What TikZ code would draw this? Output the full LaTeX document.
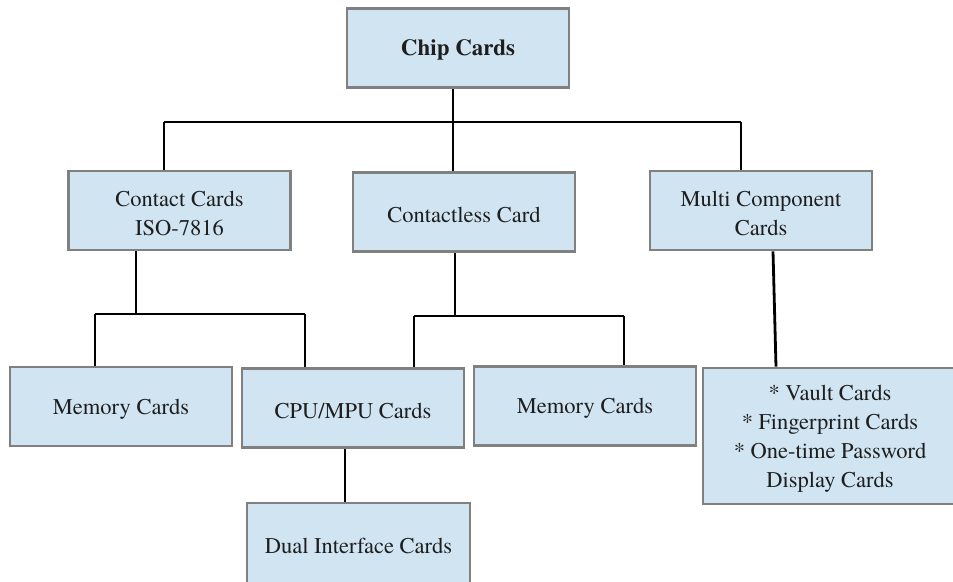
\documentclass[tikz,border=0pt]{standalone}
\usepackage{fontspec}
\setmainfont{texgyretermes}[Extension=.otf, UprightFont=*-regular, BoldFont=*-bold]
\usetikzlibrary{backgrounds}
\definecolor{boxfill}{RGB}{208,228,242}
\definecolor{boxline}{RGB}{128,128,128}
\definecolor{ink}{RGB}{30,30,30}
\begin{document}
\begin{tikzpicture}[x=1pt,y=-1pt,
  cardbox/.style={draw=boxline, fill=boxfill, line width=2.6pt,
    minimum width=222pt, minimum height=79pt, inner sep=0pt},
  cardtext/.style={align=center, text=ink, inner sep=0pt, yshift=-2.5pt,
    font=\fontsize{22.5}{29}\selectfont},
  wire/.style={draw=black, line width=2.8pt}]
\useasboundingbox (0,0) rectangle (953,581);

% boxes
\node[cardbox] (chip) at (458,47.8) {};
\node[cardbox] (contact) at (179.5,210.5) {};
\node[cardbox] (contactless) at (464,212) {};
\node[cardbox] (multi) at (761,210.5) {};
\node[cardbox] (mem1) at (121,406.5) {};
\node[cardbox] (cpu) at (353,408) {};
\node[cardbox] (mem2) at (585,406) {};
\node[cardbox, minimum width=254pt, minimum height=136pt] (vault) at (830,436) {};
\node[cardbox, minimum width=223pt, minimum height=80pt] (dual) at (358.5,543) {};

% box texts
\node[cardtext, font=\fontsize{23}{29}\selectfont\bfseries] (chipt) at (chip.center) {Chip Cards};
\node[cardtext] (contactt) at (contact.center) {Contact Cards\\ISO-7816};
\node[cardtext] (contactlesst) at (contactless.center) {Contactless Card};
\node[cardtext] (multit) at (multi.center) {Multi Component\\Cards};
\node[cardtext] (mem1t) at (mem1.center) {Memory Cards};
\node[cardtext] (cput) at (cpu.center) {CPU/MPU Cards};
\node[cardtext] (mem2t) at (mem2.center) {Memory Cards};
\node[cardtext] (vaultt) at (vault.center)
  {* Vault Cards\\* Fingerprint Cards\\* One-time Password\\Display Cards};
\node[cardtext] (dualt) at (dual.center) {Dual Interface Cards};

% junction points of the tree
\coordinate (tm) at (453,122);
\coordinate (tl) at (164,122);
\coordinate (tr) at (741,122);
\coordinate (c1) at (136,314);
\coordinate (cl) at (95,314);
\coordinate (cr) at (305,314);
\coordinate (d1) at (455,316);
\coordinate (dl) at (414,316);
\coordinate (dr) at (624,316);
\coordinate (m1) at (773,0);
\coordinate (m2) at (776,0);
\coordinate (e1) at (345,0);

\begin{pgfonlayer}{background}
  % top level
  \draw[wire] (chip.south -| tm) -- (tm);
  \draw[wire] (tl) -- (tr);
  \draw[wire] (tl) -- (tl |- contact.north);
  \draw[wire] (tm) -- (tm |- contactless.north);
  \draw[wire] (tr) -- (tr |- multi.north);
  % contact cards
  \draw[wire] (contact.south -| c1) -- (c1);
  \draw[wire] (cl) -- (cr);
  \draw[wire] (cl) -- (cl |- mem1.north);
  \draw[wire] (cr) -- (cr |- cpu.north);
  % contactless card
  \draw[wire] (contactless.south -| d1) -- (d1);
  \draw[wire] (dl) -- (dr);
  \draw[wire] (dl) -- (dl |- cpu.north);
  \draw[wire] (dr) -- (dr |- mem2.north);
  % multi component
  \draw[wire] (multi.south -| m1) -- (vault.north -| m2);
  % cpu to dual interface
  \draw[wire] (cpu.south -| e1) -- (dual.north -| e1);
\end{pgfonlayer}
\end{tikzpicture}
\end{document}
